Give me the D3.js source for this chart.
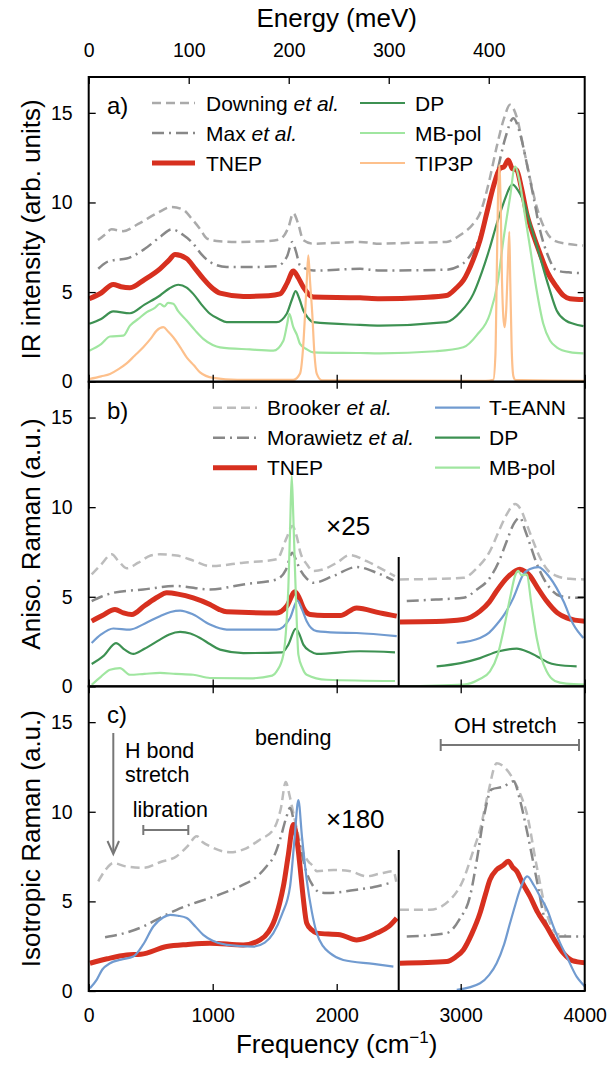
<!DOCTYPE html>
<html><head><meta charset="utf-8">
<script src="https://cdn.jsdelivr.net/npm/d3@7"></script>
<style>body{margin:0;background:#fff}svg{display:block;font-family:"Liberation Sans",Arial,sans-serif}</style>
</head><body><svg id="c" width="616" height="1066"></svg>
<script>
// ---------- tick labels ----------
const freqTicks = [0, 1000, 2000, 3000, 4000];
const energyTicks = [0, 100, 200, 300, 400];
const yTicks = [0, 5, 10, 15];
const splitFreq = 2500;

// ---------- panel a: IR ----------
const irDowning = [[75,7.9],[130,8.2],[185,8.5],[277,8.4],[400,8.8],[550,9.4],[669,9.75],[760,9.6],[842,9.0],[900,8.5],[951,8.0],[1032,7.85],[1200,7.8],[1450,7.85],[1543,7.95],[1610,8.6],[1650,9.4],[1690,8.8],[1730,7.9],[1810,7.7],[2000,7.75],[2188,7.8],[2348,7.7],[2600,7.75],[2885,7.8],[3000,8.2],[3100,8.8],[3156,9.4],[3230,11.2],[3290,13.1],[3350,14.7],[3398,15.45],[3450,14.8],[3505,13.1],[3560,11.3],[3613,9.75],[3680,8.5],[3747,7.9],[3850,7.7],[3987,7.6]];
const irMax = [[77,6.3],[140,6.65],[196,6.77],[306,6.87],[450,7.4],[580,8.1],[669,8.5],[760,8.2],[843,7.7],[910,7.1],[978,6.68],[1113,6.4],[1300,6.4],[1516,6.44],[1600,7.0],[1642,7.8],[1670,7.3],[1704,6.5],[1811,6.2],[2188,6.3],[2348,6.2],[2885,6.25],[3020,6.6],[3100,7.3],[3156,8.1],[3230,10.0],[3290,11.6],[3360,13.6],[3425,14.7],[3480,13.8],[3532,12.2],[3590,10.2],[3640,8.45],[3700,7.1],[3774,6.2],[3870,6.1],[3989,6.06]];
const irTNEP = [[5,4.63],[100,4.95],[198,5.43],[260,5.3],[333,5.24],[450,5.7],[575,6.3],[650,6.8],[696,7.1],[789,6.87],[860,6.3],[924,5.75],[1000,5.2],[1059,4.94],[1247,4.76],[1450,4.8],[1543,4.9],[1600,5.5],[1650,6.17],[1690,5.8],[1731,5.28],[1811,4.72],[2188,4.68],[2348,4.63],[2700,4.7],[2885,4.81],[2960,5.2],[3021,5.65],[3100,6.8],[3156,7.9],[3210,9.4],[3263,10.87],[3317,11.9],[3350,12.0],[3384,12.37],[3415,11.9],[3452,11.8],[3490,10.8],[3532,9.4],[3590,8.1],[3640,7.15],[3700,6.1],[3774,5.28],[3830,4.8],[3881,4.63],[3990,4.58]];
const irDP = [[5,3.23],[100,3.5],[198,3.92],[333,3.82],[450,4.3],[575,4.81],[650,5.2],[723,5.41],[790,5.25],[843,4.9],[910,4.3],[978,3.79],[1050,3.5],[1113,3.32],[1516,3.32],[1597,3.79],[1640,4.6],[1669,5.05],[1700,4.6],[1731,3.97],[1770,3.55],[1811,3.32],[2188,3.17],[2348,3.13],[2885,3.32],[3000,3.9],[3102,4.9],[3170,6.1],[3236,7.5],[3290,8.8],[3344,9.94],[3419,11.0],[3460,10.7],[3505,10.1],[3570,8.6],[3640,6.95],[3710,5.3],[3774,3.97],[3850,3.4],[3909,3.23],[3990,3.1]];
const irMBpol = [[5,1.73],[100,2.1],[172,2.52],[279,2.57],[333,3.13],[400,3.5],[468,3.88],[530,4.1],[575,4.35],[610,4.2],[640,4.4],[682,4.35],[720,3.95],[790,3.41],[860,2.85],[924,2.39],[1000,2.05],[1059,1.92],[1300,1.8],[1489,1.73],[1570,2.29],[1600,3.2],[1618,3.79],[1650,3.04],[1680,2.6],[1704,2.11],[1760,1.8],[1811,1.64],[2188,1.6],[2348,1.58],[2800,1.7],[3021,1.92],[3130,2.6],[3236,3.79],[3300,5.6],[3344,7.9],[3398,10.3],[3438,12.0],[3478,11.06],[3520,9.2],[3559,7.5],[3610,5.2],[3666,3.23],[3720,2.3],[3774,1.92],[3880,1.65],[3990,1.58]];
const irTIP3P = [[5,0.15],[100,0.3],[172,0.43],[240,0.7],[306,1.02],[370,1.45],[440,1.92],[500,2.4],[548,2.85],[602,3.04],[640,2.8],[682,2.48],[740,1.9],[790,1.36],[850,0.9],[898,0.52],[1005,0.21],[1200,0.1],[1650,0.1],[1704,0.45],[1730,2.0],[1745,3.79],[1760,5.8],[1771,7.05],[1785,5.6],[1803,3.79],[1820,1.6],[1839,0.45],[1880,0.08],[3200,0.05],[3263,0.1],[3280,1.5],[3290,5.65],[3300,10.0],[3311,12.09],[3322,10.0],[3333,5.65],[3344,3.6],[3355,3.04],[3367,4.0],[3378,6.0],[3392,8.36],[3400,5.5],[3411,1.9],[3425,0.3],[3440,0.1],[4000,0.05]];

// ---------- panel b: anisotropic Raman (left part / right part x25) ----------
const anBrooker = [[24,6.25],[100,6.8],[185,7.37],[240,7.0],[306,6.59],[400,6.9],[500,7.3],[575,7.37],[710,7.3],[850,7.0],[978,6.71],[1247,6.9],[1516,7.09],[1597,8.3],[1642,8.95],[1680,8.3],[1704,7.55],[1760,6.8],[1811,6.44],[1892,6.53],[2000,6.9],[2107,7.33],[2242,6.99],[2350,6.6],[2470,6.15]];
const anBrookerR = [[2510,5.97],[2800,6.0],[3021,6.06],[3130,6.6],[3236,7.55],[3310,8.7],[3371,9.6],[3438,10.17],[3490,9.8],[3532,9.05],[3590,8.0],[3640,7.18],[3700,6.5],[3774,6.16],[3880,6.0],[4000,5.97]];
const anMorawietz = [[24,4.76],[100,5.0],[198,5.22],[440,5.41],[710,5.6],[978,5.41],[1247,5.69],[1516,5.97],[1590,6.5],[1642,7.46],[1680,6.9],[1704,6.53],[1760,6.0],[1811,5.78],[1973,6.16],[2161,6.66],[2323,6.34],[2457,5.91]];
const anMorawietzR = [[2565,4.76],[2800,4.85],[3021,4.94],[3130,5.4],[3236,6.06],[3310,7.0],[3371,8.1],[3430,9.1],[3478,9.42],[3520,8.7],[3559,7.93],[3610,6.9],[3666,6.06],[3730,5.4],[3801,5.04],[3900,4.95],[3990,4.94]];
const anTNEP = [[24,3.64],[110,3.95],[212,4.29],[280,4.1],[347,4.01],[450,4.5],[560,5.0],[629,5.22],[720,5.15],[843,4.94],[978,4.57],[1050,4.3],[1113,4.16],[1516,4.1],[1597,4.48],[1664,5.28],[1700,4.9],[1731,4.38],[1786,4.01],[1900,3.95],[2027,3.95],[2161,4.38],[2348,4.1],[2484,3.92]];
const anTNEPR = [[2510,3.6],[2800,3.62],[3021,3.73],[3156,4.2],[3230,4.7],[3290,5.32],[3380,6.1],[3478,6.53],[3520,6.4],[3559,6.16],[3620,5.5],[3693,4.76],[3780,4.1],[3855,3.82],[3920,3.7],[4000,3.64]];
const anTEANN = [[24,2.42],[100,2.9],[198,3.23],[333,3.17],[450,3.5],[575,3.92],[660,4.15],[737,4.23],[843,4.01],[978,3.45],[1113,3.17],[1516,3.17],[1624,3.82],[1683,4.79],[1720,4.3],[1758,3.64],[1839,3.08],[2000,3.0],[2161,2.98],[2484,2.8]];
const anTEANNR = [[2968,2.42],[3156,2.7],[3230,3.0],[3290,3.45],[3360,4.1],[3425,4.94],[3505,6.25],[3560,6.55],[3626,6.66],[3720,6.06],[3828,4.76],[3909,3.45],[3989,2.7]];
const anDP = [[24,1.25],[120,1.7],[220,2.42],[290,2.05],[360,1.81],[450,2.1],[575,2.61],[650,2.9],[737,3.04],[820,2.95],[898,2.7],[980,2.35],[1059,2.05],[1247,1.86],[1560,1.9],[1610,2.33],[1669,3.21],[1700,2.9],[1731,2.33],[1790,1.95],[1839,1.81],[2188,1.96],[2470,1.9]];
const anDPR = [[2806,1.12],[3000,1.3],[3156,1.58],[3300,1.95],[3452,2.11],[3550,1.9],[3640,1.58],[3700,1.35],[3774,1.21],[3935,1.12]];
const anMBpol = [[24,0.09],[100,0.55],[172,0.93],[252,1.02],[333,0.65],[450,0.7],[575,0.75],[700,0.7],[843,0.65],[978,0.47],[1300,0.45],[1480,0.6],[1516,0.84],[1570,1.77],[1595,3.5],[1610,5.5],[1625,9.0],[1637,11.75],[1650,9.5],[1664,6.44],[1678,3.6],[1691,1.77],[1725,1.0],[1758,0.65],[1919,0.37],[2470,0.3]];
const anMBpolR = [[2510,0.0],[3021,0.1],[3150,0.4],[3236,0.84],[3300,1.8],[3344,3.08],[3400,5.0],[3440,6.2],[3465,6.44],[3490,6.2],[3532,6.25],[3570,4.6],[3613,2.7],[3650,1.6],[3693,0.84],[3760,0.3],[3850,0.15],[4000,0.1]];

// ---------- panel c: isotropic Raman (left part / right part x180) ----------
const isBrooker = [[77,6.12],[140,6.8],[198,7.14],[300,6.95],[440,6.87],[580,7.2],[710,7.52],[800,8.1],[871,8.64],[920,8.3],[978,8.07],[1140,7.74],[1250,7.9],[1382,8.45],[1489,9.0],[1550,10.2],[1589,11.66],[1620,10.9],[1650,9.94],[1690,8.7],[1731,7.7],[1770,7.24],[1811,6.96],[1839,6.68],[1973,6.75],[2100,6.7],[2242,6.4],[2350,6.55],[2457,6.68],[2480,6.1]];
const isBrookerR = [[2510,4.53],[2752,4.53],[2900,5.0],[3021,6.21],[3100,7.8],[3156,9.0],[3220,11.0],[3290,12.7],[3350,12.5],[3425,11.8],[3480,11.0],[3532,9.94],[3613,6.96],[3693,4.35],[3774,3.2],[3850,3.1]];
const isMorawietz = [[132,3.0],[300,3.25],[440,3.6],[580,4.1],[710,4.53],[850,4.9],[978,5.19],[1100,5.5],[1247,5.93],[1350,6.35],[1435,6.96],[1500,7.6],[1543,8.45],[1590,9.6],[1624,10.22],[1660,9.3],[1704,8.07],[1758,6.6],[1811,5.84],[1866,5.5],[1919,5.47],[2161,5.65],[2300,5.8],[2430,6.03]];
const isMorawietzR = [[2565,3.04],[2887,3.23],[2990,4.0],[3075,5.28],[3130,7.3],[3183,9.57],[3250,11.25],[3344,11.4],[3425,11.7],[3480,10.6],[3532,9.0],[3613,6.21],[3680,3.97],[3774,3.04],[4000,3.04]];
const isTNEP = [[10,1.55],[150,1.8],[306,2.01],[420,2.05],[629,2.48],[800,2.6],[978,2.67],[1247,2.57],[1382,2.85],[1450,3.3],[1489,3.79],[1540,4.9],[1570,5.84],[1610,7.6],[1650,9.29],[1680,8.4],[1704,6.96],[1730,5.2],[1758,3.79],[1800,3.4],[1839,3.23],[2027,3.14],[2161,2.85],[2323,3.23],[2420,3.6],[2484,4.07]];
const isTNEPR = [[2510,1.55],[2887,1.64],[2960,1.9],[3021,2.29],[3090,3.2],[3156,4.35],[3200,5.4],[3236,6.21],[3290,6.77],[3340,7.0],[3384,7.24],[3420,6.9],[3452,6.68],[3500,6.0],[3559,5.28],[3620,4.4],[3693,3.6],[3760,2.8],[3828,2.11],[3900,1.7],[4000,1.58]];
const isTEANN = [[10,0.15],[64,0.62],[110,1.2],[172,1.55],[260,1.75],[360,1.92],[440,2.6],[521,3.6],[600,4.1],[656,4.25],[720,4.2],[790,4.07],[860,3.6],[924,3.13],[1000,2.8],[1113,2.57],[1328,2.48],[1420,2.7],[1489,3.23],[1560,4.3],[1624,5.84],[1660,8.5],[1691,10.65],[1720,8.6],[1758,6.21],[1800,4.4],[1839,3.23],[1890,2.5],[1946,2.11],[2053,1.73],[2295,1.51],[2457,1.36]];
const isTEANNR = [[2968,0.06],[3156,0.43],[3230,0.9],[3290,1.55],[3350,2.6],[3398,3.79],[3440,4.8],[3478,5.65],[3537,6.4],[3590,5.9],[3640,5.28],[3700,4.5],[3747,3.6],[3800,2.7],[3855,1.92],[3935,0.8],[3989,0.34],[4000,0.25]];

// ---------- styles ----------
const STY = {
  downing: {c:"#aaaaaa", w:2.5, d:"9,5"},
  brooker: {c:"#bcbcbc", w:2.5, d:"9,5"},
  max:     {c:"#888888", w:2.5, d:"12,5,2,5"},
  tnep:    {c:"#d7301f", w:5,   d:null},
  dp:      {c:"#3d9152", w:2.2, d:null},
  mbpol:   {c:"#a0e6a0", w:2.2, d:null},
  tip3p:   {c:"#fdc08c", w:2.2, d:null},
  teann:   {c:"#719bd0", w:2.2, d:null}
};

const svg = d3.select("#c");
const X0 = 88.7, X1 = 584.7;
const x = d3.scaleLinear().domain([0, 4000]).range([X0, X1]);
const xE = d3.scaleLinear().domain([0, 4000 / 8.06554]).range([X0, X1]);
const tops = [77, 381.7, 686.3], PH = 304.7;
const TICK = 7;

const panels = [
  {label:"a)", ytitle:"IR intensity (arb. units)",
   series:[[irDowning,"downing"],[irMax,"max"],[irTNEP,"tnep"],[irDP,"dp"],[irMBpol,"mbpol"],[irTIP3P,"tip3p"]],
   legend:[{x1:152,x2:195,tx:206,items:[[[["Downing ",0],["et al.",1]],"downing"],[[["Max ",0],["et al.",1]],"max"],[[["TNEP",0]],"tnep"]]},
           {x1:360,x2:405,tx:415,items:[[[["DP",0]],"dp"],[[["MB-pol",0]],"mbpol"],[[["TIP3P",0]],"tip3p"]]}]},
  {label:"b)", ytitle:"Aniso. Raman (a.u.)", factor:"×25", sepTop:557,
   series:[[anBrooker,"brooker"],[anBrookerR,"brooker"],[anMorawietz,"max"],[anMorawietzR,"max"],[anTNEP,"tnep"],[anTNEPR,"tnep"],[anTEANN,"teann"],[anTEANNR,"teann"],[anDP,"dp"],[anDPR,"dp"],[anMBpol,"mbpol"],[anMBpolR,"mbpol"]],
   legend:[{x1:213,x2:257,tx:267,items:[[[["Brooker ",0],["et al.",1]],"brooker"],[[["Morawietz ",0],["et al.",1]],"max"],[[["TNEP",0]],"tnep"]]},
           {x1:435,x2:480,tx:489,items:[[[["T-EANN",0]],"teann"],[[["DP",0]],"dp"],[[["MB-pol",0]],"mbpol"]]}]},
  {label:"c)", ytitle:"Isotropic Raman (a.u.)", factor:"×180", sepTop:850,
   series:[[isBrooker,"brooker"],[isBrookerR,"brooker"],[isMorawietz,"max"],[isMorawietzR,"max"],[isTNEP,"tnep"],[isTNEPR,"tnep"],[isTEANN,"teann"],[isTEANNR,"teann"]],
   legend:[]}
];

const defs = svg.append("defs");

panels.forEach((p, i) => {
  const top = tops[i], bot = top + PH;
  const y = d3.scaleLinear().domain([0, 17]).range([bot, top]);
  const g = svg.append("g");

  defs.append("clipPath").attr("id", "clip" + i)
    .append("rect").attr("x", X0).attr("y", top).attr("width", X1 - X0).attr("height", PH);

  const line = d3.line().x(d => x(d[0])).y(d => y(d[1])).curve(d3.curveMonotoneX);
  const cg = g.append("g").attr("clip-path", `url(#clip${i})`);
  p.series.forEach(([data, key]) => {
    const s = STY[key];
    cg.append("path").datum(data).attr("d", line)
      .attr("fill", "none").attr("stroke", s.c).attr("stroke-width", s.w)
      .attr("stroke-linejoin", "round").attr("stroke-linecap", "butt")
      .attr("stroke-dasharray", s.d);
  });

  // axes (inward ticks)
  const axL = g.append("g").attr("transform", `translate(${X0},0)`)
    .call(d3.axisLeft(y).tickValues(yTicks).tickSize(-TICK).tickSizeOuter(0).tickPadding(16).tickFormat(d3.format("d")));
  const axR = g.append("g").attr("transform", `translate(${X1},0)`)
    .call(d3.axisRight(y).tickValues([5, 10, 15]).tickSize(-TICK).tickSizeOuter(0).tickFormat(""));
  const axB = g.append("g").attr("transform", `translate(0,${bot})`)
    .call(d3.axisBottom(x).tickValues(freqTicks).tickSize(-TICK).tickSizeOuter(0).tickPadding(17)
      .tickFormat(i === 2 ? d3.format("d") : ""));
  let axT;
  if (i === 0) {
    axT = g.append("g").attr("transform", `translate(0,${top})`)
      .call(d3.axisTop(xE).tickValues(energyTicks).tickSize(-TICK).tickSizeOuter(0).tickPadding(20).tickFormat(d3.format("d")));
  } else {
    axT = g.append("g").attr("transform", `translate(0,${top})`)
      .call(d3.axisTop(x).tickValues(freqTicks).tickSize(-TICK).tickSizeOuter(0).tickFormat(""));
  }
  [axL, axR, axB, axT].forEach(a => {
    a.select(".domain").remove();
    a.selectAll(".tick line").attr("stroke", "#000").attr("stroke-width", 1.3);
    a.selectAll(".tick text").attr("font-size", 19.5).attr("fill", "#000")
      .attr("font-family", '"Liberation Sans",Arial,sans-serif');
  });

  // frame
  g.append("rect").attr("x", X0).attr("y", top).attr("width", X1 - X0).attr("height", PH)
    .attr("fill", "none").attr("stroke", "#000").attr("stroke-width", 2);

  // split line
  if (p.sepTop) {
    g.append("line").attr("x1", x(splitFreq)).attr("x2", x(splitFreq))
      .attr("y1", p.sepTop).attr("y2", bot).attr("stroke", "#000").attr("stroke-width", 2);
    g.append("text").attr("x", 326).attr("y", p.sepTop - 22).attr("font-size", 26).text(p.factor);
  }

  // panel label
  g.append("text").attr("x", 107).attr("y", top + 37).attr("font-size", 24).text(p.label);

  // y title
  g.append("text").attr("transform", `translate(40,${top + PH / 2}) rotate(-90)`)
    .attr("text-anchor", "middle").attr("font-size", 26).text(p.ytitle);

  // legend
  p.legend.forEach(col => {
    col.items.forEach((it, r) => {
      const ry = top + 26 + r * 30;
      const s = STY[it[1]];
      g.append("line").attr("x1", col.x1).attr("x2", col.x2).attr("y1", ry).attr("y2", ry)
        .attr("stroke", s.c).attr("stroke-width", s.w).attr("stroke-dasharray", s.d);
      const t = g.append("text").attr("x", col.tx).attr("y", ry + 7.5).attr("font-size", 21);
      it[0].forEach(([str, ital]) => {
        t.append("tspan").attr("font-style", ital ? "italic" : "normal").text(str);
      });
    });
  });
});

// top energy title
svg.append("text").attr("x", (X0 + X1) / 2).attr("y", 27).attr("text-anchor", "middle")
  .attr("font-size", 26).text("Energy (meV)");

// bottom frequency title
const ft = svg.append("text").attr("x", (X0 + X1) / 2).attr("y", 1053).attr("text-anchor", "middle").attr("font-size", 26);
ft.append("tspan").text("Frequency (cm");
ft.append("tspan").attr("font-size", 17).attr("dy", -10).text("−1");
ft.append("tspan").attr("dy", 10).text(")");

// annotations panel c
const ann = svg.append("g").attr("stroke", "#777").attr("stroke-width", 2).attr("fill", "none");
ann.append("line").attr("x1", 113.3).attr("x2", 113.3).attr("y1", 733).attr("y2", 853);
ann.append("polyline").attr("points", "107.5,841 113.3,854 119,841");
ann.append("line").attr("x1", 143.3).attr("x2", 188.3).attr("y1", 830).attr("y2", 830);
ann.append("line").attr("x1", 143.3).attr("x2", 143.3).attr("y1", 825).attr("y2", 835);
ann.append("line").attr("x1", 188.3).attr("x2", 188.3).attr("y1", 825).attr("y2", 835);
ann.append("line").attr("x1", 440.7).attr("x2", 579).attr("y1", 745).attr("y2", 745);
ann.append("line").attr("x1", 440.7).attr("x2", 440.7).attr("y1", 739).attr("y2", 751);
ann.append("line").attr("x1", 579).attr("x2", 579).attr("y1", 739).attr("y2", 751);

const at = svg.append("g").attr("font-size", 21.5).attr("fill", "#000");
at.append("text").attr("x", 125).attr("y", 758).text("H bond");
at.append("text").attr("x", 125).attr("y", 782).text("stretch");
at.append("text").attr("x", 132.7).attr("y", 817).text("libration");
at.append("text").attr("x", 255).attr("y", 745).text("bending");
at.append("text").attr("x", 454).attr("y", 733).text("OH stretch");
</script></body></html>
